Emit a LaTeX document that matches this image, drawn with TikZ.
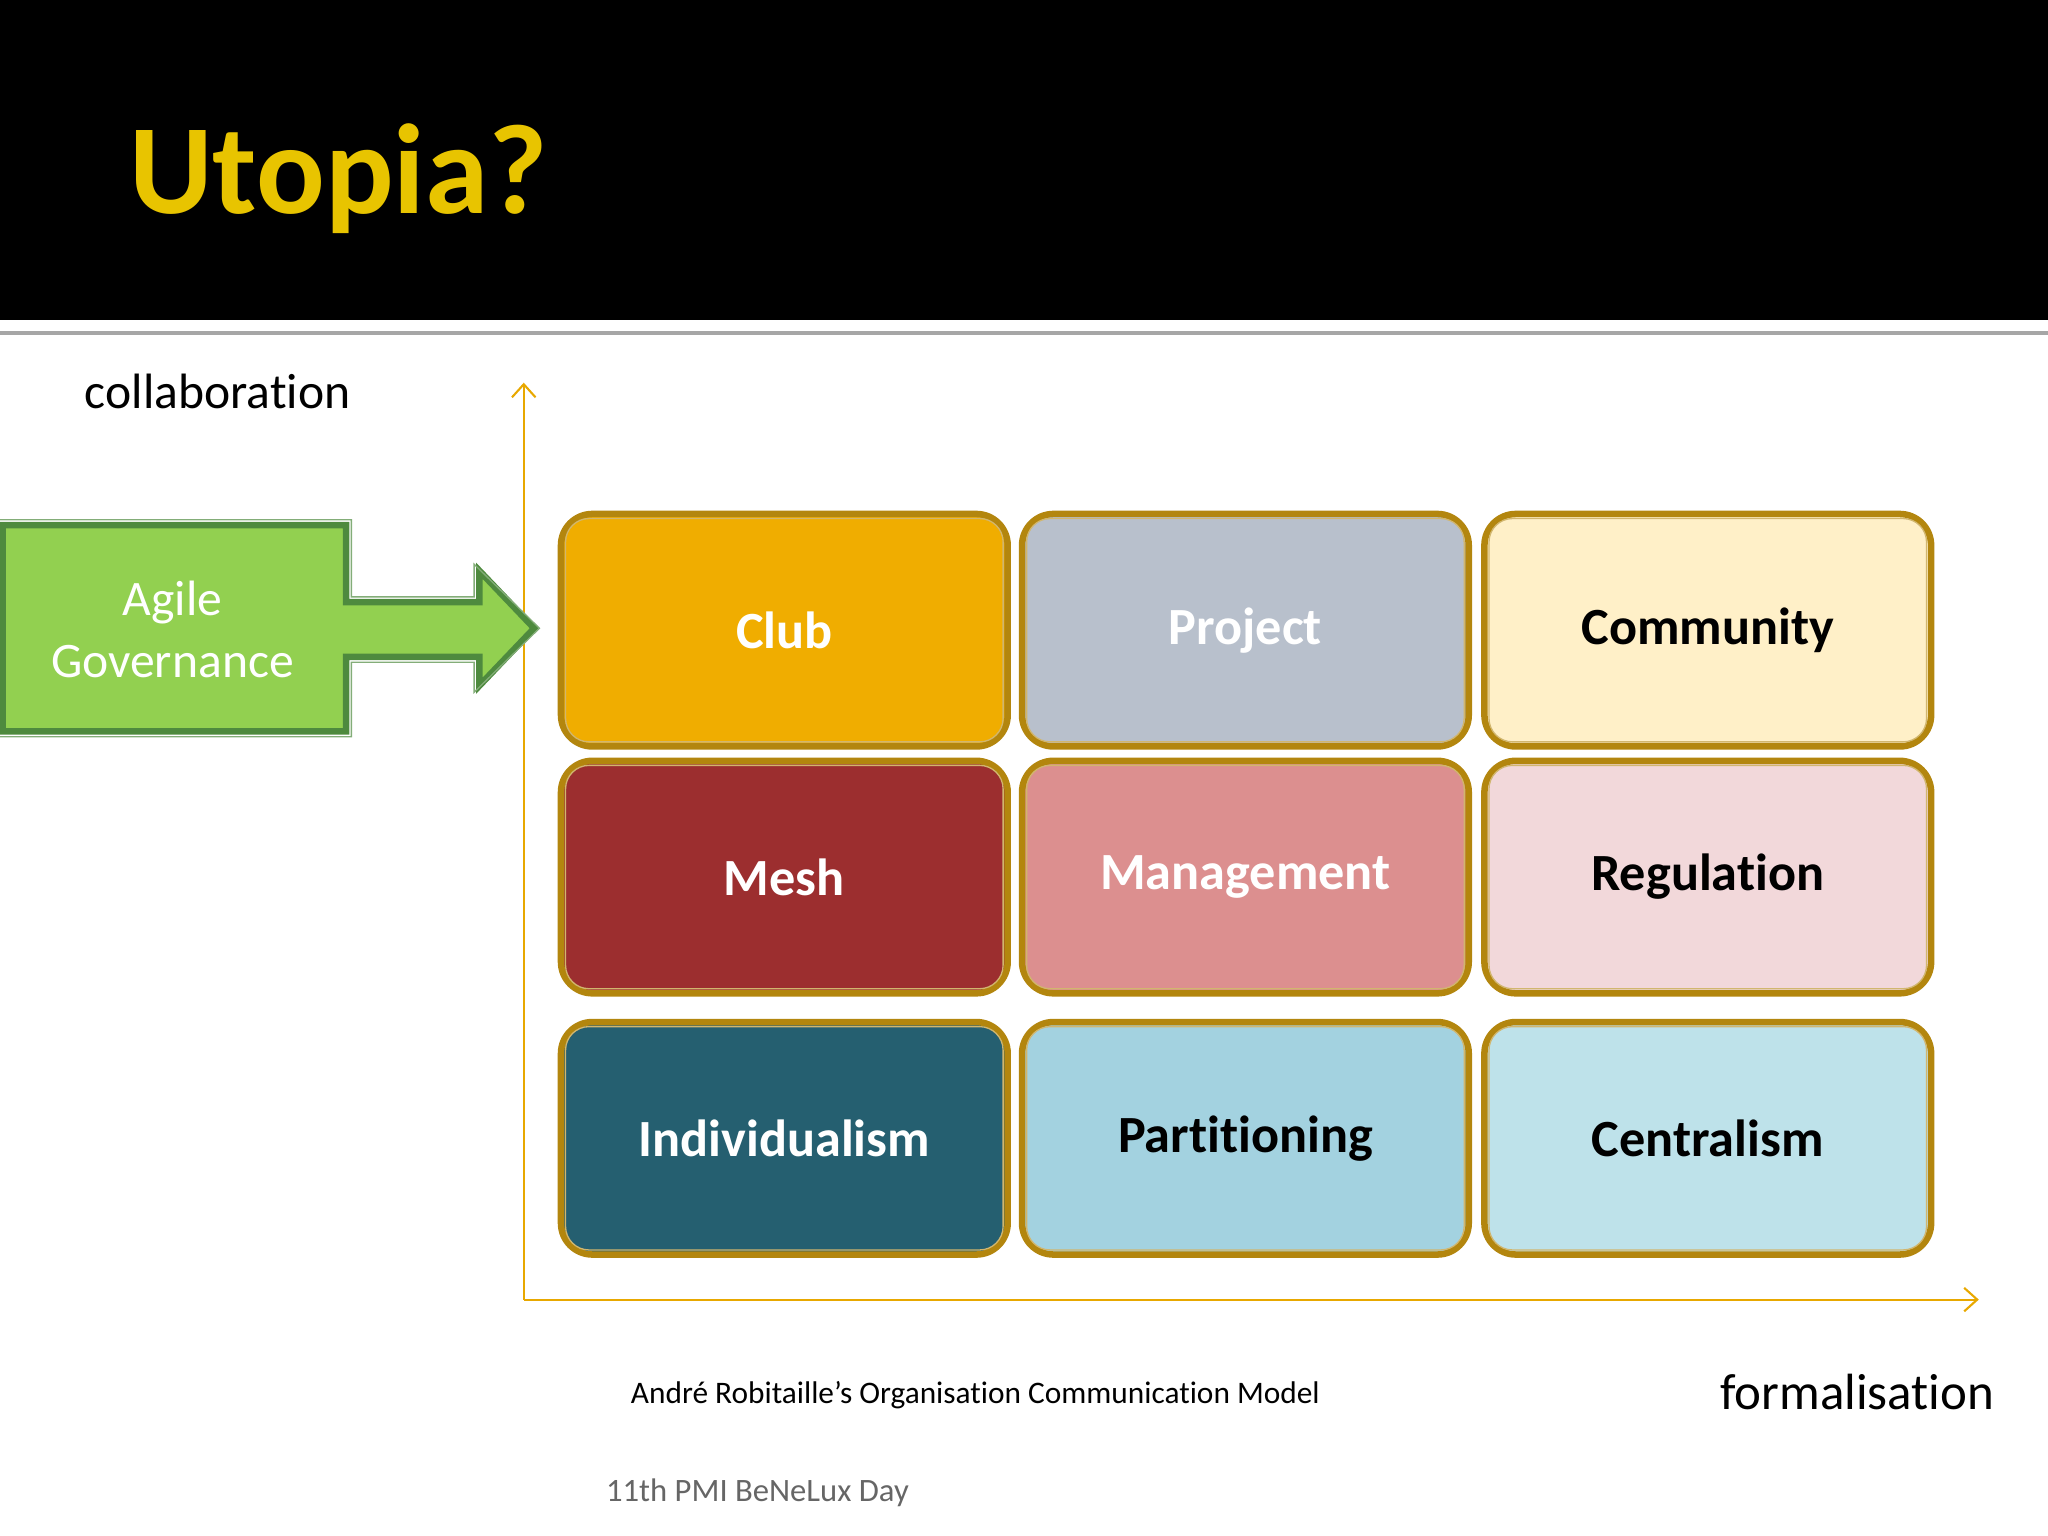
\documentclass[tikz,border=0pt]{standalone}
\usepackage{fontspec}
\setmainfont{Carlito}[Ligatures={NoCommon}]
\usetikzlibrary{arrows.meta}
\begin{document}
\begin{tikzpicture}[x=0.5pt,y=-0.5pt,
  cell/.style={draw=cellborder,line width=2.5pt,rounded corners=12pt,minimum width=171pt,minimum height=89pt,inner sep=0pt,font=\fontsize{20}{24}\selectfont\bfseries,anchor=north west},
  axis/.style={draw=axiscol,line width=0.8pt,-{Straight Barb[length=5pt,width=9pt]}}]
\definecolor{cellborder}{HTML}{B3860E}
\definecolor{axiscol}{HTML}{E8A800}
\definecolor{gfill}{HTML}{92D050}
\definecolor{gdark}{HTML}{4E8A3E}
\definecolor{titlecol}{HTML}{E8C400}
\useasboundingbox (0,0) rectangle (1568,1176);
\fill[black] (0,0) rectangle (1568,245);
\draw[gray!70,line width=1.2pt] (0,255) -- (1568,255);
\node[anchor=west,text=titlecol,font=\fontsize{49}{58}\selectfont\bfseries] (title) at (92,137) {Utopia?};
\node[anchor=west,font=\fontsize{19}{23}\selectfont] (coll) at (58,300) {collaboration};
\coordinate (o) at (401,995);
\coordinate (ytop) at (401,293);
\coordinate (xend) at (1515,995);
\draw[axis] (o) -- (ytop);
\draw[axis] (o) -- (xend);
\foreach \n/\x/\y/\f/\t/\c in {
 club/427/391/F0AD00/white/Club, proj/780/391/B8C0CC/white/Project, comm/1134/391/FFF0C8/black/Community,
 mesh/427/580/9C2E2F/white/Mesh, mgmt/780/580/DC8F8F/white/Management, reg/1134/580/F2D8DA/black/Regulation,
 ind/427/780/255F70/white/Individualism, part/780/780/A3D2E0/black/Partitioning, cent/1134/780/BEE2EA/black/Centralism}{
  \definecolor{tmpf}{HTML}{\f}
  \node[cell,fill=tmpf,text=\t] (\n) at (\x,\y) {\c};
  \draw[cellborder!60,line width=0.5pt,rounded corners=9pt] ([shift={(6,6)}]\n.north west) rectangle ([shift={(-6,-6)}]\n.south east);
}
\draw[fill=gfill,draw=gdark,line width=2.5pt] (2,402) -- (265,402) -- (265,461) -- (367,461) -- (367,437) -- (409,481) -- (367,525) -- (367,503) -- (265,503) -- (265,560) -- (2,560) -- cycle;
\draw[gdark!70,line width=0.5pt] (-2,398) -- (269,398) -- (269,457) -- (363,457) -- (363,432) -- (413,481) -- (363,530) -- (363,507) -- (269,507) -- (269,564) -- (-2,564);
\node[text=white,align=center,font=\fontsize{19}{24}\selectfont] (agile) at (132,482) {Agile\\Governance};
\node[anchor=west,font=\fontsize{12}{14}\selectfont] (model) at (476,1068) {André Robitaille’s Organisation Communication Model};
\node[anchor=west,font=\fontsize{19.5}{23}\selectfont] (form) at (1310,1066) {formalisation};
\node[anchor=west,text=black!60,font=\fontsize{12.5}{14}\selectfont] (day) at (457,1143) {11th PMI BeNeLux Day};
\end{tikzpicture}
\end{document}
